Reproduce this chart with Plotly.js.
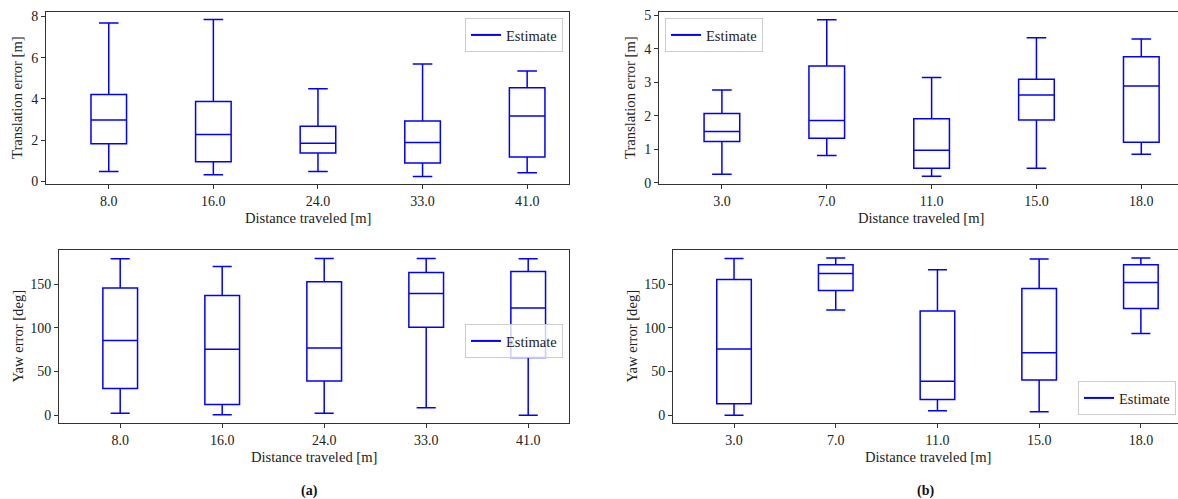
<!DOCTYPE html>
<html>
<head>
<meta charset="utf-8">
<script src="https://cdn.plot.ly/plotly-3.0.1.min.js"></script>
<style>html,body{margin:0;padding:0;background:#fff;}#chart{width:1178px;height:499px;}</style>
</head>
<body>
<div id="chart"></div>
<script>
// Categories (distance traveled)
const distA = ['8.0', '16.0', '24.0', '33.0', '41.0'];
const distB = ['3.0', '7.0', '11.0', '15.0', '18.0'];

// (a) Translation error [m]
const transA_low  = [0.48, 0.32, 0.48, 0.24, 0.42];
const transA_q1   = [1.82, 0.95, 1.38, 0.89, 1.18];
const transA_med  = [2.98, 2.27, 1.85, 1.88, 3.17];
const transA_q3   = [4.22, 3.88, 2.67, 2.93, 4.54];
const transA_high = [7.68, 7.86, 4.49, 5.70, 5.35];

// (b) Translation error [m]
const transB_low  = [0.25, 0.81, 0.19, 0.43, 0.85];
const transB_q1   = [1.23, 1.33, 0.43, 1.87, 1.21];
const transB_med  = [1.53, 1.86, 0.97, 2.62, 2.89];
const transB_q3   = [2.07, 3.49, 1.91, 3.09, 3.76];
const transB_high = [2.77, 4.87, 3.14, 4.33, 4.29];

// (a) Yaw error [deg]
const yawA_low  = [2.3, 0.4, 2.3, 8.4, 0.0];
const yawA_q1   = [30.5, 12.2, 39.2, 100.5, 65.9];
const yawA_med  = [85.3, 75.4, 76.9, 139.3, 122.6];
const yawA_q3   = [145.4, 137.0, 152.6, 163.3, 164.4];
const yawA_high = [178.9, 170.2, 179.3, 179.3, 178.9];

// (b) Yaw error [deg]
const yawB_low  = [0.0, 120.2, 5.0, 3.8, 93.5];
const yawB_q1   = [13.0, 142.7, 17.9, 40.1, 122.1];
const yawB_med  = [75.6, 162.2, 38.9, 71.4, 151.9];
const yawB_q3   = [155.3, 172.1, 119.1, 145.0, 172.1];
const yawB_high = [179.4, 179.8, 166.4, 178.6, 179.8];

const seriesName = 'Estimate';
const xTitle = 'Distance traveled [m]';
const yTitleTrans = 'Translation error [m]';
const yTitleYaw = 'Yaw error [deg]';

const BLUE = '#0000ff';
const FONT = 'Liberation Serif, Times New Roman, serif';
const W = 1178, H = 499;
const px = v => v / W;
const py = v => 1 - v / H;

function boxTrace(x, low, q1, med, q3, high, xa, ya) {
  return {
    type: 'box', x: x, q1: q1, median: med, q3: q3,
    lowerfence: low, upperfence: high,
    xaxis: xa, yaxis: ya, boxpoints: false, showlegend: false,
    width: 0.34, whiskerwidth: 0.55,
    line: {color: BLUE, width: 1.5}, fillcolor: 'rgba(255,255,255,0)',
    hoverinfo: 'skip'
  };
}
function legendTrace(xa, ya, lg) {
  return {
    type: 'scatter', mode: 'lines', x: [null], y: [null], name: seriesName,
    xaxis: xa, yaxis: ya, legend: lg, showlegend: true,
    line: {color: BLUE, width: 2}
  };
}

const data = [
  boxTrace(distA, transA_low, transA_q1, transA_med, transA_q3, transA_high, 'x', 'y'),
  legendTrace('x', 'y', 'legend'),
  boxTrace(distB, transB_low, transB_q1, transB_med, transB_q3, transB_high, 'x2', 'y2'),
  legendTrace('x2', 'y2', 'legend2'),
  boxTrace(distA, yawA_low, yawA_q1, yawA_med, yawA_q3, yawA_high, 'x3', 'y3'),
  legendTrace('x3', 'y3', 'legend3'),
  boxTrace(distB, yawB_low, yawB_q1, yawB_med, yawB_q3, yawB_high, 'x4', 'y4'),
  legendTrace('x4', 'y4', 'legend4')
];

const tickFont = {family: FONT, size: 14, color: '#222'};
function xAxis(dom, cats, range, anchor, mirror) {
  return {
    domain: dom, anchor: anchor, type: 'category', categoryorder: 'array', categoryarray: cats,
    range: range, showline: true, linecolor: '#333', linewidth: 1, mirror: mirror,
    ticks: 'outside', ticklen: 4, tickcolor: '#333', tickwidth: 1,
    showgrid: false, zeroline: false, tickfont: tickFont, fixedrange: true
  };
}
function yAxis(dom, range, dtick, anchor, mirror) {
  return {
    domain: dom, anchor: anchor, range: range, dtick: dtick, tick0: 0,
    showline: true, linecolor: '#333', linewidth: 1, mirror: mirror,
    ticks: 'outside', ticklen: 4, tickcolor: '#333', tickwidth: 1,
    showgrid: false, zeroline: false, tickfont: tickFont, fixedrange: true
  };
}
const legBase = {
  font: {family: FONT, size: 14.5, color: '#222'},
  bgcolor: 'rgba(255,255,255,0.8)', bordercolor: '#cccccc', borderwidth: 1,
  itemwidth: 30, tracegroupgap: 0
};

const topDom = [py(184), py(12)];
const botDom = [py(423), py(250)];

const ann = (text, x, y, angle, extra) => Object.assign({
  text: text, x: x, y: y, xref: 'paper', yref: 'paper', showarrow: false,
  textangle: angle || 0, xanchor: 'center', yanchor: 'middle',
  font: {family: FONT, size: 14.6, color: '#222'}
}, extra || {});

const layout = {
  width: W, height: H, margin: {l: 0, r: 0, t: 0, b: 0},
  paper_bgcolor: '#ffffff', plot_bgcolor: '#ffffff',
  xaxis: xAxis([px(46), px(569)], distA, [-0.6, 4.4], 'y', true),
  yaxis: yAxis(topDom, [-0.13, 8.22], 2, 'x', true),
  xaxis2: xAxis([px(659), 1], distB, [-0.6, 4.35], 'y2', true),
  yaxis2: yAxis(topDom, [-0.04, 5.1], 1, 'x2', false),
  xaxis3: xAxis([px(59), px(569)], distA, [-0.6, 4.4], 'y3', true),
  yaxis3: yAxis(botDom, [-9, 189], 50, 'x3', true),
  xaxis4: xAxis([px(673), 1], distB, [-0.6, 4.365], 'y4', true),
  yaxis4: yAxis(botDom, [-9, 189], 50, 'x4', false),
  legend: Object.assign({}, legBase, {x: px(563), y: py(18), xanchor: 'right', yanchor: 'top'}),
  legend2: Object.assign({}, legBase, {x: px(665), y: py(18), xanchor: 'left', yanchor: 'top'}),
  legend3: Object.assign({}, legBase, {x: px(563), y: py(324), xanchor: 'right', yanchor: 'top'}),
  legend4: Object.assign({}, legBase, {x: px(1176), y: py(415), xanchor: 'right', yanchor: 'bottom'}),
  annotations: [
    ann(yTitleTrans, px(17), py(98), -90),
    ann(yTitleTrans, px(630), py(98), -90),
    ann(yTitleYaw, px(17), py(336.5), -90),
    ann(yTitleYaw, px(631), py(336.5), -90),
    ann(xTitle, px(307.5), py(218), 0),
    ann(xTitle, px(921), py(218), 0),
    ann(xTitle, px(314), py(457), 0),
    ann(xTitle, px(928), py(457), 0),
    ann('<b>(a)</b>', px(309), py(491), 0, {font: {family: FONT, size: 14, color: '#111'}}),
    ann('<b>(b)</b>', px(925), py(491), 0, {font: {family: FONT, size: 14, color: '#111'}})
  ]
};

Plotly.newPlot('chart', data, layout, {staticPlot: true, displayModeBar: false});
</script>
</body>
</html>
